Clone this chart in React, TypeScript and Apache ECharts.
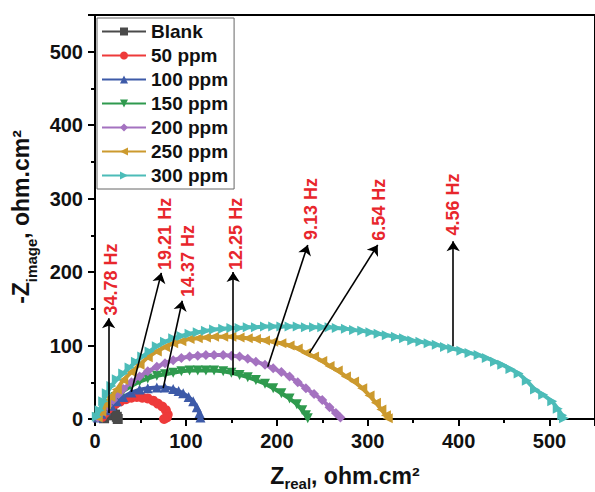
import React, { useEffect, useRef } from "react";
import * as echarts from "echarts";

const seriesNames = ["Blank", "50 ppm", "100 ppm", "150 ppm", "200 ppm", "250 ppm", "300 ppm"];
const seriesColors = ["#4a4a4a", "#ee3a3a", "#3d5aa8", "#2f9a4e", "#a472c0", "#cc9a2e", "#4cbcb8"];
const seriesSymbols = ["rect", "circle", "triangle", "triangle", "diamond", "triangle", "triangle"];
const seriesRotate = [0, 0, 0, 180, 0, 90, -90];

const blank = [[10, 1], [13, 5], [16, 7], [19, 8], [22, 6], [24, 3], [25, 0]];
const ppm50 = [[8, 3], [11, 8], [14, 13], [18, 17], [23, 21], [28, 24], [34, 27], [40, 29], [46, 30], [52, 29], [58, 28], [64, 25], [69, 21], [74, 17], [78, 12], [80, 6], [79, 2], [76, 0]];
const ppm100 = [[3, 2], [7, 7], [12, 12], [18, 18], [24, 24], [31, 30], [40, 36], [49, 40], [58, 42], [68, 43], [77, 43], [86, 41], [92, 38], [97, 35], [103, 30], [108, 24], [112, 16], [115, 8], [116, 2]];
const ppm150 = [[2, 2], [6, 8], [11, 14], [16, 20], [23, 30], [31, 38], [40, 45], [49, 51], [58, 55], [68, 59], [77, 61], [86, 63], [95, 65], [104, 66], [113, 66], [122, 66], [131, 66], [141, 65], [150, 63], [159, 60], [168, 57], [177, 53], [187, 48], [196, 42], [205, 35], [214, 28], [222, 20], [228, 12], [232, 5], [234, 1]];
const ppm200 = [[3, 2], [8, 10], [14, 18], [20, 26], [26, 34], [31, 41], [40, 50], [49, 58], [58, 65], [68, 71], [77, 76], [86, 80], [95, 83], [104, 85], [113, 86], [122, 87], [131, 87], [141, 87], [150, 86], [159, 85], [168, 82], [177, 78], [187, 74], [196, 69], [205, 64], [214, 58], [223, 50], [232, 42], [241, 34], [250, 26], [258, 16], [265, 8], [270, 2]];
const ppm250 = [[3, 2], [7, 10], [12, 20], [17, 30], [24, 40], [31, 53], [40, 64], [49, 74], [58, 84], [68, 92], [77, 98], [86, 103], [95, 106], [104, 109], [113, 110], [122, 111], [131, 112], [141, 112], [150, 112], [159, 111], [168, 110], [177, 109], [187, 107], [196, 105], [205, 103], [214, 100], [223, 96], [232, 90], [241, 85], [250, 79], [258, 72], [267, 66], [276, 58], [285, 51], [294, 42], [302, 32], [309, 22], [315, 13], [320, 5], [322, 1]];
const ppm300 = [[2, 3], [5, 12], [9, 24], [13, 35], [18, 45], [24, 54], [31, 62], [38, 70], [45, 78], [52, 85], [60, 92], [68, 99], [77, 105], [86, 110], [95, 113], [104, 116], [113, 118], [122, 120], [131, 122], [141, 123], [150, 124], [159, 124], [168, 125], [177, 125], [187, 126], [196, 126], [205, 126], [214, 126], [223, 126], [232, 125], [241, 125], [250, 125], [258, 125], [266, 124], [276, 123], [285, 121], [294, 120], [303, 118], [312, 116], [321, 114], [331, 112], [340, 110], [349, 107], [358, 105], [367, 103], [376, 101], [385, 98], [393, 96], [403, 93], [412, 90], [422, 87], [431, 83], [440, 78], [448, 74], [457, 68], [466, 62], [475, 52], [484, 40], [493, 33], [503, 24], [509, 14], [514, 5], [516, 1]];
const seriesData = [blank, ppm50, ppm100, ppm150, ppm200, ppm250, ppm300];

const freqLabels = ["34.78 Hz", "19.21 Hz", "14.37 Hz", "12.25 Hz", "9.13 Hz", "6.54 Hz", "4.56 Hz"];
const labelCenters = [[18, 190], [77, 252], [102, 215], [155, 252], [238, 286], [312, 285], [394, 292]];
const arrowStarts = [[15, 8], [40, 37], [75, 42], [152, 60], [190, 71], [236, 90], [394, 99]];
const arrowEnds = [[15, 137], [73, 199], [96, 161], [152, 200], [234, 237], [311, 237], [394, 242]];

const FONT = "'Liberation Sans', Arial, sans-serif";

export default function App() {
  const ref = useRef<HTMLDivElement>(null);
  useEffect(() => {
    if (!ref.current) return;
    const chart = echarts.init(ref.current, null, { renderer: "svg" });
    const lineSeries = seriesNames.map((name, i) => ({
      name,
      type: "line",
      data: seriesData[i],
      symbol: seriesSymbols[i],
      symbolRotate: seriesRotate[i],
      symbolSize: 10,
      showAllSymbol: true,
      color: seriesColors[i],
      lineStyle: { width: 4, color: seriesColors[i] },
      itemStyle: { color: seriesColors[i] },
      z: 2 + i,
    }));
    const option: any = {
      animation: false,
      textStyle: { fontFamily: FONT },
      grid: {
        left: 95, right: 0, top: 15, bottom: 73,
        outerBoundsMode: "none",
        containLabel: false,
        show: true, borderColor: "#000", borderWidth: 2, backgroundColor: "transparent",
      },
      legend: {
        orient: "vertical",
        left: 97, top: 18,
        data: seriesNames,
        itemWidth: 44, itemHeight: 10, itemGap: 5,
        padding: [4, 6, 4, 4],
        borderColor: "#666", borderWidth: 1, backgroundColor: "#fff",
        textStyle: { fontSize: 19, fontWeight: "bold", color: "#111", fontFamily: FONT, lineHeight: 19 },
      },
      xAxis: {
        type: "value", min: 0, max: 550, interval: 100,
        splitLine: { show: false },
        axisLine: { onZero: false, lineStyle: { color: "#000", width: 2 } },
        axisTick: { inside: false, length: 7, lineStyle: { width: 2, color: "#000" } },
        minorTick: { show: true, splitNumber: 2, length: 4, lineStyle: { width: 2, color: "#000" } },
        axisLabel: { fontSize: 20, fontWeight: "bold", color: "#111", margin: 12, showMaxLabel: false, fontFamily: FONT },
        name: "{a|Z}{b|real}{a|, ohm.cm²}",
        nameLocation: "middle",
        nameGap: 45,
        nameTextStyle: {
          rich: {
            a: { fontSize: 23, fontWeight: "bold", color: "#111", fontFamily: FONT },
            b: { fontSize: 15, fontWeight: "bold", color: "#111", fontFamily: FONT, verticalAlign: "bottom", padding: [0, 0, -4, 0] },
          },
        },
      },
      yAxis: {
        type: "value", min: 0, max: 550, interval: 100,
        splitLine: { show: false },
        axisLine: { onZero: false, lineStyle: { color: "#000", width: 2 } },
        axisTick: { inside: false, length: 7, lineStyle: { width: 2, color: "#000" } },
        minorTick: { show: true, splitNumber: 2, length: 4, lineStyle: { width: 2, color: "#000" } },
        axisLabel: { fontSize: 20, fontWeight: "bold", color: "#111", margin: 12, showMaxLabel: false, fontFamily: FONT },
        name: "{a|-Z}{b|image}{a|, ohm.cm²}",
        nameLocation: "middle",
        nameRotate: 90,
        nameGap: 57,
        nameTextStyle: {
          rich: {
            a: { fontSize: 23, fontWeight: "bold", color: "#111", fontFamily: FONT },
            b: { fontSize: 15, fontWeight: "bold", color: "#111", fontFamily: FONT, verticalAlign: "bottom", padding: [0, 0, -6, 0] },
          },
        },
      },
      series: [
        ...lineSeries,
        {
          type: "lines",
          coordinateSystem: "cartesian2d",
          silent: true,
          z: 20,
          symbol: ["none", "arrow"],
          symbolSize: 10,
          lineStyle: { color: "#000", width: 1.6, opacity: 1 },
          data: arrowStarts.map((s, i) => ({ coords: [s, arrowEnds[i]] })),
        },
        {
          type: "scatter",
          silent: true,
          z: 21,
          symbolSize: 1,
          itemStyle: { color: "#fff", opacity: 0 },
          data: labelCenters.map((c, i) => [c[0], c[1], freqLabels[i]]),
          label: {
            show: true,
            position: "inside",
            rotate: 90,
            formatter: (p: any) => p.data[2],
            fontSize: 18,
            fontWeight: "bold",
            color: "#e8262c",
            opacity: 1,
            textBorderWidth: 0,
            fontFamily: FONT,
          },
        },
      ],
    };
    chart.setOption(option);
    return () => chart.dispose();
  }, []);
  return (
    <div
      ref={ref}
      style={{ position: "fixed", left: 0, top: 0, width: 595, height: 492, background: "#fff" }}
    />
  );
}
